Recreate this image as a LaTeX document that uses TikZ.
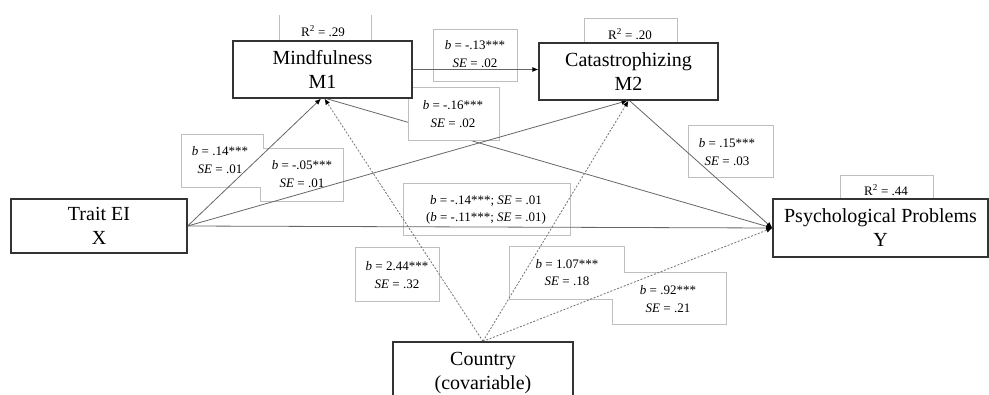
\documentclass[tikz,border=0pt]{standalone}
\usepackage{fontspec}
\setmainfont{Liberation Serif}
\usetikzlibrary{arrows.meta}
\begin{document}
\begin{tikzpicture}[x=1pt,y=-1pt,
  mainnode/.style={draw=black!80, line width=1.3pt, fill=white, align=center,
    font=\fontsize{20}{24}\selectfont, inner sep=0pt},
  lbl/.style={align=center, font=\fontsize{13}{17.5}\selectfont, inner sep=0pt},
  lblbox/.style={draw=black!25, line width=0.8pt, fill=white},
  conn/.style={draw=black!60, line width=0.8pt},
  arr/.style={conn, -{Latex[length=6pt,width=5pt,black]}},
  darr/.style={arr, draw=black!55, dash pattern=on 2pt off 1.6pt}
]
\useasboundingbox (0,0) rectangle (989,394);
\clip (0,0) rectangle (989,394);

% R^2 boxes (behind the main nodes)
\draw[lblbox] (279,15) -- (279,41) (371,15) -- (371,41);
\node[lbl] (r1) at (323,31) {R\textsuperscript{2} = .29};
\draw[lblbox] (584,43) -- (584,18) -- (677,18) -- (677,43);
\node[lbl] (r2) at (630,34) {R\textsuperscript{2} = .20};
\draw[lblbox] (840,199) -- (840,175) -- (933,175) -- (933,199);
\node[lbl] (r3) at (886,190) {R\textsuperscript{2} = .44};

% main nodes (placed first so that connectors can use their names)
\node[mainnode, minimum width=179pt, minimum height=57pt] (m1) at (322.5,69.5) {};
\node[mainnode, minimum width=179pt, minimum height=57pt] (m2) at (628.5,71.5) {};
\node[mainnode, minimum width=176pt, minimum height=54pt] (x) at (99,226) {};
\node[mainnode, minimum width=215pt, minimum height=58pt] (y) at (880.5,228) {};
\node[mainnode, minimum width=180pt, minimum height=62pt] (c) at (483,373) {};

% M1 -> Y (passes behind the b = -.16 box)
\draw[arr] ([xshift=4pt]m1.south) -- (y.west);

% label boxes
\draw[lblbox] (433,29) rectangle (517,81);
\draw[lblbox] (408,87) rectangle (499,140);
\draw[lblbox] (181,134) -- (263,134) -- (263,148) -- (343,148) -- (343,201)
  -- (260,201) -- (260,187) -- (181,187) -- cycle;
\draw[lblbox] (403,183) rectangle (570,235);
\draw[lblbox] (688,125) rectangle (773,177);
\draw[lblbox] (355,247) rectangle (439,301);
\draw[lblbox] (509,246) -- (624,246) -- (624,272) -- (726,272) -- (726,324)
  -- (612,324) -- (612,299) -- (509,299) -- cycle;

% connectors
\draw[arr] (m1.east) -- (m1.east -| m2.west);
\draw[arr] (x.east) -- ([xshift=-1.5pt]m1.south);
\draw[arr] (x.east) -- ([xshift=-1pt]m2.south);
\draw[arr] (x.east) -- (y.west);
\draw[arr] ([xshift=1pt]m2.south) -- (y.west);
\draw[darr] (c.north) -- ([xshift=2pt]m1.south);
\draw[darr] (c.north) -- (m2.south);
\draw[darr] (c.north) -- (y.west);

% redraw main nodes on top
\node[mainnode, minimum width=179pt, minimum height=57pt] (m1b) at (m1) {Mindfulness\\M1};
\node[mainnode, minimum width=179pt, minimum height=57pt] (m2b) at (m2) {Catastrophizing\\M2};
\node[mainnode, minimum width=176pt, minimum height=54pt] (xb) at (x) {Trait EI\\X};
\node[mainnode, minimum width=215pt, minimum height=58pt] (yb) at (y) {Psychological Problems\\Y};
\node[mainnode, minimum width=180pt, minimum height=62pt] (cb) at (c) {Country\\(covariable)};

% label texts
\node[lbl] (l1) at (475,54) {\textit{b} = -.13***\\\textit{SE} = .02};
\node[lbl] (l2) at (453,114) {\textit{b} = -.16***\\\textit{SE} = .02};
\node[lbl] (l3) at (220,160) {\textit{b} = .14***\\\textit{SE} = .01};
\node[lbl] (l4) at (302,174) {\textit{b} = -.05***\\\textit{SE} = .01};
\node[lbl] (l5) at (486,210) {\textit{b} = -.14***; \textit{SE} = .01\\(\textit{b} = -.11***; \textit{SE} = .01)};
\node[lbl] (l6) at (727,152) {\textit{b} = .15***\\\textit{SE} = .03};
\node[lbl] (l7) at (397,275) {\textit{b} = 2.44***\\\textit{SE} = .32};
\node[lbl] (l8) at (567,272.5) {\textit{b} = 1.07***\\\textit{SE} = .18};
\node[lbl] (l9) at (668,299) {\textit{b} = .92***\\\textit{SE} = .21};
\end{tikzpicture}
\end{document}
